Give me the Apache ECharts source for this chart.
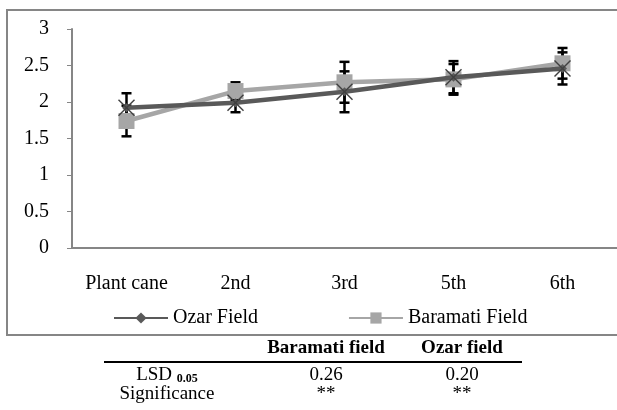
<!DOCTYPE html>
<html>
<head>
<meta charset="utf-8">
<script src="https://cdn.jsdelivr.net/npm/echarts@6/dist/echarts.min.js"></script>
<style>
  html, body { margin: 0; padding: 0; background: #fff; }
  #chart { width: 617px; height: 410px; }
</style>
</head>
<body>
<div id="chart"></div>
<script>
// ratoon stage on x
var categories = ['Plant cane', '2nd', '3rd', '5th', '6th']
var ozar = [1.92, 1.99, 2.14, 2.34, 2.46]
var ozarErr = [0.2, 0.13, 0.28, 0.22, 0.22]
var baramati = [1.74, 2.15, 2.27, 2.31, 2.53]
var baramatiErr = [0.21, 0.12, 0.28, 0.21, 0.21]
var yTicks = [0, 0.5, 1, 1.5, 2, 2.5, 3]

// small table under the chart
var tableHead = ['', 'Baramati field', 'Ozar field']
var tableRows = [
  ['LSD', '0.26', '0.20'],
  ['Significance', '**', '**']
]

var serif = '"Liberation Serif", "Times New Roman", serif'

function errData(vals, errs) {
  return vals.map(function (v, i) { return [i, v - errs[i], v + errs[i]] })
}

function renderErr(params, api) {
  var lo = api.coord([api.value(0), api.value(1)])
  var hi = api.coord([api.value(0), api.value(2)])
  var w = 5
  var st = { stroke: '#000', lineWidth: 2.5 }
  return {
    type: 'group',
    children: [
      { type: 'line', shape: { x1: lo[0], y1: lo[1], x2: hi[0], y2: hi[1] }, style: st },
      { type: 'line', shape: { x1: lo[0] - w, y1: lo[1], x2: lo[0] + w, y2: lo[1] }, style: st },
      { type: 'line', shape: { x1: hi[0] - w, y1: hi[1], x2: hi[0] + w, y2: hi[1] }, style: st }
    ]
  }
}

function renderCross(params, api) {
  var p = api.coord([api.value(0), api.value(1)])
  var s = 8
  var st = { stroke: '#404040', lineWidth: 1.5 }
  return {
    type: 'group',
    children: [
      { type: 'line', shape: { x1: p[0] - s, y1: p[1] - s, x2: p[0] + s, y2: p[1] + s }, style: st },
      { type: 'line', shape: { x1: p[0] - s, y1: p[1] + s, x2: p[0] + s, y2: p[1] - s }, style: st }
    ]
  }
}

// table graphics
var colX = [167, 326, 462]
var tableGraphic = []
tableHead.forEach(function (t, i) {
  if (!t) return
  tableGraphic.push({
    type: 'text', x: colX[i], y: 339,
    style: { text: t, font: 'bold 19px ' + serif, fill: '#000', align: 'center' }
  })
})
tableGraphic.push({
  type: 'line', shape: { x1: 104, y1: 362, x2: 522, y2: 362 },
  style: { stroke: '#000', lineWidth: 2 }
})
tableRows.forEach(function (row, r) {
  row.forEach(function (t, i) {
    var txt = t
    if (r === 0 && i === 0) {
      txt = '{a|LSD }{b|0.05}'
    }
    tableGraphic.push({
      type: 'text', x: colX[i], y: 366 + r * 19,
      style: {
        text: txt, font: '19px ' + serif, fill: '#000', align: 'center',
        rich: {
          a: { font: '19px ' + serif, fill: '#000' },
          b: { font: 'bold 12px ' + serif, fill: '#000', padding: [6, 0, 0, 0] }
        }
      }
    })
  })
})

var chart = echarts.init(document.getElementById('chart'))
var option = {
  animation: false,
  backgroundColor: '#fff',
  grid: { left: 72, top: 29, right: -4, bottom: 162 },
  legend: {
    data: ['Ozar Field', 'Baramati Field'],
    left: 108,
    top: 303,
    itemWidth: 54,
    itemHeight: 14,
    itemGap: 90,
    textStyle: { fontFamily: serif, fontSize: 20, color: '#000' }
  },
  xAxis: {
    type: 'category',
    data: categories,
    axisLine: { lineStyle: { color: '#868686', width: 2 } },
    axisTick: { length: 5, lineStyle: { color: '#868686', width: 1 } },
    axisLabel: { color: '#000', fontFamily: serif, fontSize: 20, margin: 26 }
  },
  yAxis: {
    type: 'value',
    min: yTicks[0],
    max: yTicks[yTicks.length - 1],
    interval: 0.5,
    splitLine: { show: false },
    axisLine: { show: true, lineStyle: { color: '#868686', width: 2 } },
    axisTick: { show: true, length: 5, lineStyle: { color: '#868686', width: 1 } },
    axisLabel: { color: '#000', fontFamily: serif, fontSize: 20, margin: 23 }
  },
  graphic: [
    {
      type: 'rect', shape: { x: 7, y: 10, width: 640, height: 325 },
      style: { fill: 'none', stroke: '#868686', lineWidth: 2 }, z: -1
    }
  ].concat(tableGraphic),
  series: [
    {
      type: 'custom',
      name: 'baramatiErr',
      renderItem: renderErr,
      data: errData(baramati, baramatiErr),
      z: 1,
      silent: true
    },
    {
      type: 'custom',
      name: 'ozarErr',
      renderItem: renderErr,
      data: errData(ozar, ozarErr),
      z: 1,
      silent: true
    },
    {
      name: 'Baramati Field',
      type: 'line',
      data: baramati,
      z: 2,
      symbol: 'rect',
      symbolSize: 16,
      color: '#a6a6a6',
      lineStyle: { color: '#a6a6a6', width: 4.5 },
      itemStyle: { color: '#a6a6a6' }
    },
    {
      name: 'Ozar Field',
      type: 'line',
      data: ozar,
      z: 3,
      symbol: 'diamond',
      symbolSize: 9,
      color: '#595959',
      lineStyle: { color: '#595959', width: 4.5 },
      itemStyle: { color: '#595959' }
    },
    {
      type: 'custom',
      name: 'ozarCross',
      renderItem: renderCross,
      data: ozar.map(function (v, i) { return [i, v] }),
      z: 5,
      silent: true
    }
  ]
}
chart.setOption(option)
</script>
</body>
</html>
